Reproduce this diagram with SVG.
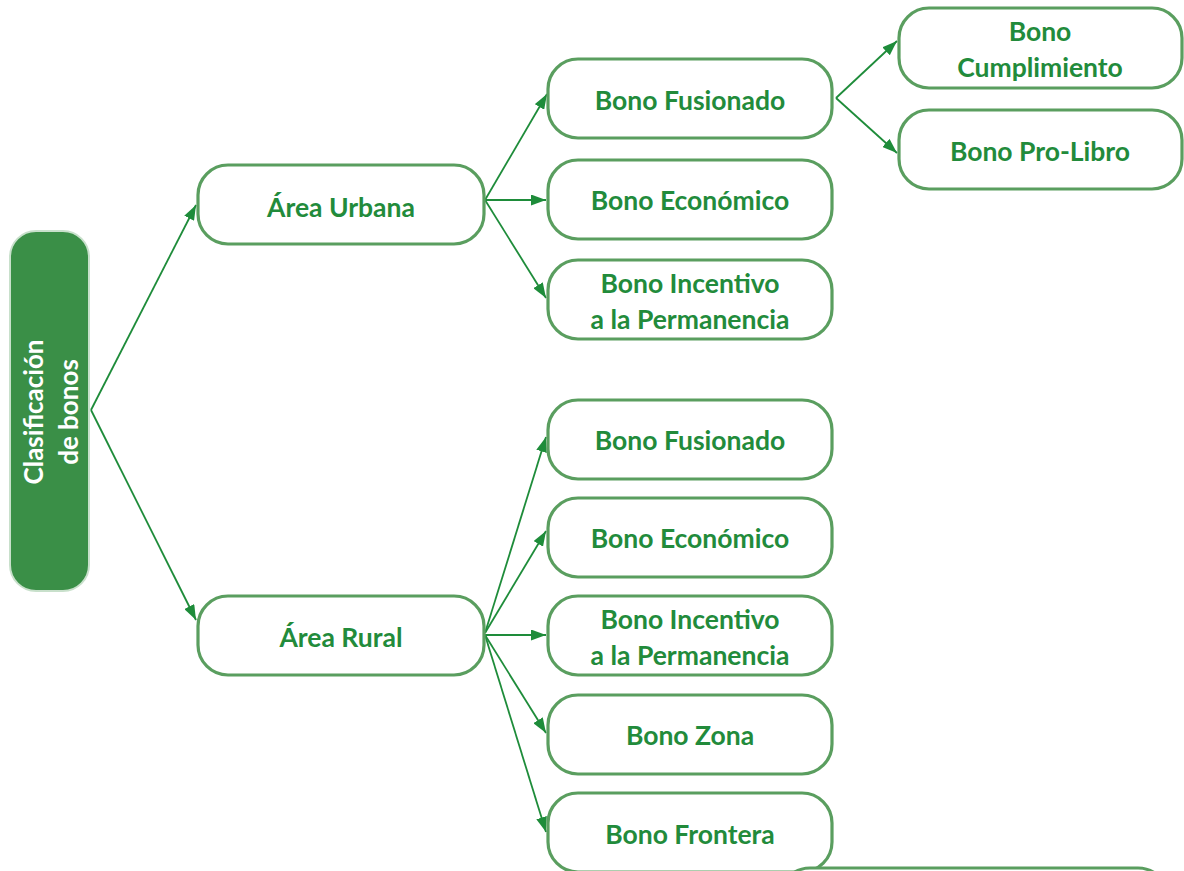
<svg xmlns="http://www.w3.org/2000/svg" width="1184" height="871" viewBox="0 0 1184 871">
<style>
.n{fill:#fff;stroke:#5a9e5f;stroke-width:3.2}
.t{font-family:Lato,"Open Sans",sans-serif;font-weight:bold;font-size:26.5px;fill:#228b3b;text-anchor:middle}
.c{stroke:#1e8c3a;stroke-width:1.8;fill:none}
</style>
<defs>
<marker id="a" viewBox="0 0 15 11" refX="15" refY="5.5" markerWidth="15" markerHeight="11" markerUnits="userSpaceOnUse" orient="auto">
<path d="M0,0 L15,5.5 L0,11 Z" fill="#1e8c3a"/>
</marker>
</defs>
<g id="connectors">
<path class="c" d="M91,410 L196,205" marker-end="url(#a)"/>
<path class="c" d="M91,410 L196,620" marker-end="url(#a)"/>
<path class="c" d="M485,200 L547,94" marker-end="url(#a)"/>
<path class="c" d="M485,200 L546,200" marker-end="url(#a)"/>
<path class="c" d="M485,200 L546,298" marker-end="url(#a)"/>
<path class="c" d="M485,633 L546,437" marker-end="url(#a)"/>
<path class="c" d="M485,633 L546,531" marker-end="url(#a)"/>
<path class="c" d="M485,635 L546,635" marker-end="url(#a)"/>
<path class="c" d="M485,635 L546,733" marker-end="url(#a)"/>
<path class="c" d="M485,635 L546,832" marker-end="url(#a)"/>
<path class="c" d="M836,98 L897,41" marker-end="url(#a)"/>
<path class="c" d="M836,98 L897,153" marker-end="url(#a)"/>
</g>
<g id="root">
<rect x="10" y="231" width="79" height="360" rx="26" fill="#3a8f47" stroke="#c8e0cb" stroke-width="2"/>
<text transform="translate(43,412) rotate(-90)" class="t" style="fill:#fff;font-size:26px">Clasificación</text>
<text transform="translate(78,412) rotate(-90)" class="t" style="fill:#fff;font-size:26px">de bonos</text>
</g>
<g id="urbana">
<rect class="n" x="198" y="165" width="286" height="79" rx="30"/>
<text class="t" x="341" y="217">Área Urbana</text>
</g>
<g id="rural">
<rect class="n" x="198" y="596" width="286" height="79" rx="30"/>
<text class="t" x="341" y="647">Área Rural</text>
</g>
<g id="u-fusionado">
<rect class="n" x="548" y="59" width="284" height="79" rx="30"/>
<text class="t" x="690" y="110">Bono Fusionado</text>
</g>
<g id="u-economico">
<rect class="n" x="548" y="160" width="284" height="79" rx="30"/>
<text class="t" x="690" y="210">Bono Económico</text>
</g>
<g id="u-incentivo">
<rect class="n" x="548" y="260" width="284" height="79" rx="30"/>
<text class="t" x="690" y="293">Bono Incentivo</text>
<text class="t" x="690" y="329">a la Permanencia</text>
</g>
<g id="cumplimiento">
<rect class="n" x="899" y="8" width="283" height="80" rx="30"/>
<text class="t" x="1040" y="41">Bono</text>
<text class="t" x="1040" y="77">Cumplimiento</text>
</g>
<g id="prolibro">
<rect class="n" x="899" y="110" width="283" height="79" rx="30"/>
<text class="t" x="1040" y="161">Bono Pro-Libro</text>
</g>
<g id="r-fusionado">
<rect class="n" x="548" y="400" width="284" height="79" rx="30"/>
<text class="t" x="690" y="450">Bono Fusionado</text>
</g>
<g id="r-economico">
<rect class="n" x="548" y="498" width="284" height="79" rx="30"/>
<text class="t" x="690" y="548">Bono Económico</text>
</g>
<g id="r-incentivo">
<rect class="n" x="548" y="596" width="284" height="79" rx="30"/>
<text class="t" x="690" y="629">Bono Incentivo</text>
<text class="t" x="690" y="665">a la Permanencia</text>
</g>
<g id="r-zona">
<rect class="n" x="548" y="695" width="284" height="79" rx="30"/>
<text class="t" x="690" y="745">Bono Zona</text>
</g>
<g id="r-frontera">
<rect class="n" x="548" y="793" width="284" height="79" rx="30"/>
<text class="t" x="690" y="844">Bono Frontera</text>
</g>
<g id="partial">
<rect class="n" x="780" y="868" width="388" height="80" rx="30"/>
</g>
</svg>
